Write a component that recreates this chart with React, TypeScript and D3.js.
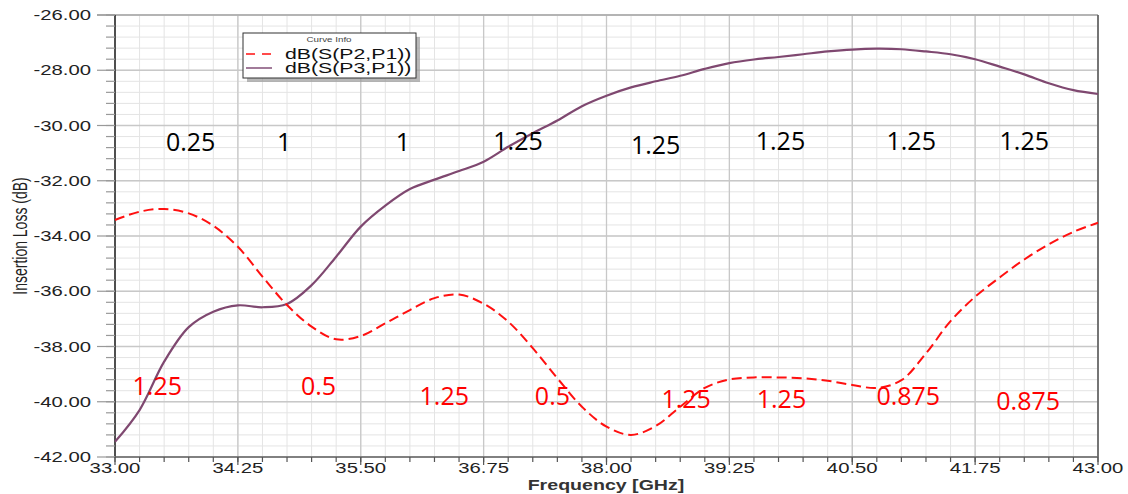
import React from "react";
import * as d3 from "d3";

const freqs: number[] = [
  33.0, 33.25, 33.5, 33.75, 34.0, 34.25, 34.5, 34.75, 35.0, 35.25, 35.5, 35.75, 36.0, 36.25, 36.5, 36.75,
  37.0, 37.25, 37.5, 37.75, 38.0, 38.25, 38.5, 38.75, 39.0, 39.25, 39.5, 39.75, 40.0, 40.25, 40.5, 40.75,
  41.0, 41.25, 41.5, 41.75, 42.0, 42.25, 42.5, 42.75, 43.0,
];

const s21: number[] = [
  -33.42, -33.12, -33.02, -33.18, -33.63, -34.39, -35.47, -36.5, -37.28, -37.74, -37.62, -37.16, -36.68, -36.25,
  -36.12, -36.45, -37.1, -38.06, -39.15, -40.18, -40.9, -41.2, -40.88, -40.18, -39.5, -39.19, -39.12, -39.12,
  -39.15, -39.24, -39.39, -39.5, -39.22, -38.25, -37.08, -36.2, -35.5, -34.85, -34.3, -33.85, -33.52,
];

const s31: number[] = [
  -41.45, -40.3, -38.55, -37.3, -36.74, -36.51, -36.58, -36.46, -35.78, -34.75, -33.66, -32.9, -32.3, -31.96,
  -31.65, -31.31, -30.77, -30.28, -29.82, -29.3, -28.92, -28.62, -28.4, -28.2, -27.95, -27.74, -27.61, -27.52,
  -27.42, -27.32, -27.25, -27.22, -27.24, -27.32, -27.42, -27.6, -27.87, -28.15, -28.47, -28.72, -28.86,
];

const seriesNames: string[] = ["dB(S(P2,P1))", "dB(S(P3,P1))"];

const xTickLabels: string[] = ["33.00", "34.25", "35.50", "36.75", "38.00", "39.25", "40.50", "41.75", "43.00"];
const yTickLabels: string[] = ["-26.00", "-28.00", "-30.00", "-32.00", "-34.00", "-36.00", "-38.00", "-40.00", "-42.00"];

const blackNotes: { f: number; v: number; t: string }[] = [
  { f: 33.77, v: -30.92, t: "0.25" },
  { f: 34.72, v: -30.92, t: "1" },
  { f: 35.93, v: -30.92, t: "1" },
  { f: 37.1, v: -30.88, t: "1.25" },
  { f: 38.5, v: -31.03, t: "1.25" },
  { f: 39.77, v: -30.88, t: "1.25" },
  { f: 41.1, v: -30.88, t: "1.25" },
  { f: 42.25, v: -30.88, t: "1.25" },
];

const redNotes: { f: number; v: number; t: string }[] = [
  { f: 33.43, v: -39.75, t: "1.25" },
  { f: 35.07, v: -39.75, t: "0.5" },
  { f: 36.35, v: -40.12, t: "1.25" },
  { f: 37.45, v: -40.12, t: "0.5" },
  { f: 38.81, v: -40.22, t: "1.25" },
  { f: 39.78, v: -40.22, t: "1.25" },
  { f: 41.07, v: -40.12, t: "0.875" },
  { f: 42.29, v: -40.3, t: "0.875" },
];

const W = 1128;
const H = 494;
const L = 115;
const R = 1098;
const T = 15;
const B = 457;
const SX = 1.45;

export default function App() {
  const x = d3.scaleLinear().domain([33, 43]).range([L, R]);
  const y = d3.scaleLinear().domain([-42, -26]).range([B, T]);

  const minorX = d3.range(0, 41).map((i) => 33 + i * 0.25);
  const majorX = xTickLabels.map((s) => +s);
  const minorY = d3.range(0, 41).map((i) => -42 + i * 0.4);
  const majorY = yTickLabels.map((s) => +s);

  const line = d3
    .line<number>()
    .x((_, i) => x(freqs[i]))
    .y((d) => y(d))
    .curve(d3.curveCatmullRom.alpha(0.5));

  const axisFont = "'Liberation Sans', Arial, sans-serif";
  const noteFont = "'Open Sans', 'Noto Sans', sans-serif";

  return (
    <svg
      width={W}
      height={H}
      style={{ position: "absolute", left: 0, top: 0, background: "#fff" }}
      xmlns="http://www.w3.org/2000/svg"
    >
      <rect x={0} y={0} width={W} height={H} fill="#fff" />
      {minorX.map((f, i) => (
        <line key={"vx" + i} x1={x(f)} x2={x(f)} y1={T} y2={B} stroke="#e4e4e4" strokeWidth={1} />
      ))}
      {minorY.map((v, i) => (
        <line key={"hy" + i} x1={L} x2={R} y1={y(v)} y2={y(v)} stroke="#e4e4e4" strokeWidth={1} />
      ))}
      {majorX.map((f, i) => (
        <line key={"Vx" + i} x1={x(f)} x2={x(f)} y1={T} y2={B} stroke="#c8c8c8" strokeWidth={1.3} />
      ))}
      {majorY.map((v, i) => (
        <line key={"Hy" + i} x1={L} x2={R} y1={y(v)} y2={y(v)} stroke="#c8c8c8" strokeWidth={1.3} />
      ))}
      <line x1={97} x2={R} y1={T} y2={T} stroke="#aaa" strokeWidth={1.3} />
      <line x1={R} x2={R} y1={T} y2={B} stroke="#555" strokeWidth={1.5} />
      <line x1={L} x2={L} y1={T} y2={B + 1} stroke="#222" strokeWidth={1.5} />
      <line x1={L} x2={R} y1={B} y2={B} stroke="#666" strokeWidth={1.5} />

      {minorY.map((v, i) => (
        <line key={"ty" + i} x1={106} x2={L} y1={y(v)} y2={y(v)} stroke="#999" strokeWidth={1.2} />
      ))}
      {majorY.map((v, i) => (
        <line key={"tY" + i} x1={97} x2={L} y1={y(v)} y2={y(v)} stroke="#999" strokeWidth={1.2} />
      ))}
      {yTickLabels.map((s, i) => (
        <text
          key={"yl" + i}
          transform={`translate(91,${y(majorY[i]) + 5}) scale(${SX},1)`}
          textAnchor="end"
          fontFamily={axisFont}
          fontSize={14}
          fill="#222"
        >
          {s}
        </text>
      ))}
      {minorX.map((f, i) => (
        <line key={"tx" + i} x1={x(f)} x2={x(f)} y1={B} y2={B + 5} stroke="#555" strokeWidth={1.2} />
      ))}
      {majorX.map((f, i) => (
        <line key={"tX" + i} x1={x(f)} x2={x(f)} y1={B} y2={B + 8} stroke="#555" strokeWidth={1.2} />
      ))}
      {xTickLabels.map((s, i) => (
        <text
          key={"xl" + i}
          transform={`translate(${x(majorX[i])},${473}) scale(${SX},1)`}
          textAnchor="middle"
          fontFamily={axisFont}
          fontSize={14}
          fill="#222"
        >
          {s}
        </text>
      ))}
      <text
        transform={`translate(606,490) scale(1.4,1)`}
        textAnchor="middle"
        fontFamily={axisFont}
        fontSize={14}
        fontWeight="bold"
        fill="#333"
      >
        Frequency [GHz]
      </text>
      <text
        transform={`translate(27,236) rotate(-90) scale(1,${SX})`}
        textAnchor="middle"
        fontFamily={axisFont}
        fontSize={14}
        fill="#222"
      >
        Insertion Loss (dB)
      </text>

      <path d={line(s31) || ""} fill="none" stroke="#7f4870" strokeWidth={2.2} />
      <path d={line(s21) || ""} fill="none" stroke="#ff1010" strokeWidth={2} strokeDasharray="10,5" />

      {blackNotes.map((n, i) => (
        <text
          key={"bn" + i}
          x={x(n.f)}
          y={y(n.v)}
          textAnchor="middle"
          fontFamily={noteFont}
          fontSize={25}
          fill="#000"
        >
          {n.t}
        </text>
      ))}
      {redNotes.map((n, i) => (
        <text
          key={"rn" + i}
          x={x(n.f)}
          y={y(n.v)}
          textAnchor="middle"
          fontFamily={noteFont}
          fontSize={25}
          fill="#ff0000"
        >
          {n.t}
        </text>
      ))}

      <rect x={247} y={37} width={173} height={45} fill="#9a9a9a" opacity={0.7} />
      <rect x={243} y={33} width={173} height={45} fill="#fff" stroke="#333" strokeWidth={1} />
      <text
        transform={`translate(329,42) scale(1.4,1)`}
        textAnchor="middle"
        fontFamily={axisFont}
        fontSize={7}
        fill="#444"
      >
        Curve Info
      </text>
      <line x1={246} x2={272} y1={54} y2={54} stroke="#ff1010" strokeWidth={1.6} strokeDasharray="9,7" />
      <line x1={246} x2={272} y1={68} y2={68} stroke="#8a5a80" strokeWidth={1.6} />
      {seriesNames.map((s, i) => (
        <text
          key={"lg" + i}
          transform={`translate(285,${59 + i * 14}) scale(1.52,1)`}
          fontFamily={axisFont}
          fontSize={14}
          fill="#111"
        >
          {s}
        </text>
      ))}
    </svg>
  );
}
